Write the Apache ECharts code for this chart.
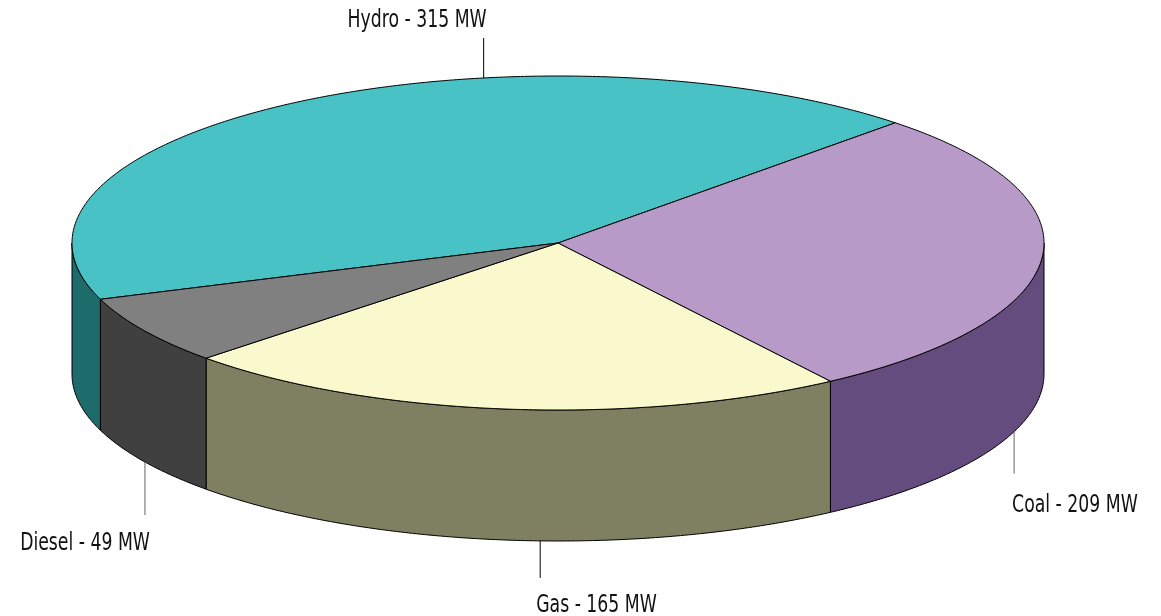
<!DOCTYPE html>
<html>
<head>
<meta charset="utf-8">
<script src="https://cdn.jsdelivr.net/npm/echarts@6/dist/echarts.min.js"></script>
<style>
html,body{margin:0;padding:0;background:#fff;}
#chart{width:1161px;height:616px;}
</style>
</head>
<body>
<div id="chart"></div>
<script>
// ---- data ----
var categories = ['Hydro', 'Coal', 'Gas', 'Diesel'];
var values = [315, 209, 165, 49];
var units = 'MW';

// ---- styles ----
var topColors = ['#49C2C6', '#B79AC8', '#FAF8CD', '#808080'];
var sideColors = ['#1D6B6B', '#654C7E', '#7F7F62', '#404040'];
var leaderColors = ['#000', '#666', '#000', '#666'];
// label anchor angle (deg), leader length, text alignment, text offset
var labelAngles = [98.8, -20.2, -92.1, -148.2];
var leaderLens = [40, 42, 37, 53];
var labelAligns = ['right', 'left', 'left', 'right'];
var labelGaps = [17, 32, 28, 29];
var labelDx = [3, -2, -4, 5];

var geo = { cx: 558, cy: 243, rx: 486, ry: 167, depth: 131, startAngle: 199.7 };
var FONT = "'Liberation Sans Narrow', 'DejaVu Sans Condensed', 'Arial Narrow', sans-serif";
var TEXT_SCALE_X = 0.8;

var total = values.reduce(function (a, b) { return a + b; }, 0);
var starts = [], ends = [];
(function () {
  var a = geo.startAngle;
  for (var i = 0; i < values.length; i++) {
    starts.push(a);
    a -= values[i] / total * 360;
    ends.push(a);
  }
})();

function pt(deg, dy) {
  var r = deg * Math.PI / 180;
  return [geo.cx + geo.rx * Math.cos(r), geo.cy - geo.ry * Math.sin(r) + (dy || 0)];
}
function arc(from, to, dy) {
  var pts = [];
  var n = Math.max(2, Math.ceil(Math.abs(to - from) / 0.5));
  for (var k = 0; k <= n; k++) pts.push(pt(from + (to - from) * k / n, dy));
  return pts;
}
// front-facing parts of [lo,hi]
function frontParts(lo, hi) {
  var res = [];
  [-720, -360, 0, 360].forEach(function (off) {
    var a = Math.max(lo, -180 + off), b = Math.min(hi, 0 + off);
    if (b > a) res.push([a, b]);
  });
  return res;
}

function renderItem(params, api) {
  var i = params.dataIndex;
  var a0 = starts[i], a1 = ends[i];
  var children = [];
  // sides
  frontParts(a1, a0).forEach(function (p) {
    var top = arc(p[0], p[1], 0);
    var bot = arc(p[1], p[0], geo.depth);
    children.push({
      type: 'polygon', z2: 1,
      shape: { points: top.concat(bot) },
      style: { fill: sideColors[i], stroke: '#000', lineWidth: 1 }
    });
  });
  // top face
  var pts = [[geo.cx, geo.cy]].concat(arc(a0, a1, 0));
  children.push({
    type: 'polygon', z2: 5,
    shape: { points: pts },
    style: { fill: topColors[i], stroke: '#000', lineWidth: 1, lineJoin: 'round' }
  });
  // label + leader
  var la = labelAngles[i];
  var s = Math.sin(la * Math.PI / 180);
  var front = s < 0;
  var base = pt(la, front ? geo.depth : 0);
  var dir = front ? 1 : -1;
  var end = [base[0], base[1] + dir * leaderLens[i]];
  children.push({
    type: 'line', z2: 6,
    shape: { x1: base[0], y1: base[1], x2: end[0], y2: end[1] },
    style: { stroke: leaderColors[i], lineWidth: 1 }
  });
  children.push({
    type: 'text', z2: 7,
    x: end[0] + labelDx[i], y: end[1] + dir * labelGaps[i],
    scaleX: TEXT_SCALE_X,
    style: {
      x: 0, y: 0,
      text: categories[i] + ' - ' + api.value(0) + ' ' + units,
      fill: '#111', font: '24px ' + FONT,
      align: labelAligns[i], verticalAlign: 'middle'
    }
  });
  return { type: 'group', children: children };
}

var chart = echarts.init(document.getElementById('chart'), null, { renderer: 'canvas' });
chart.setOption({
  animation: false,
  backgroundColor: '#fff',
  series: [{
    type: 'custom',
    coordinateSystem: 'none',
    renderItem: renderItem,
    data: values.map(function (v) { return [v]; })
  }]
});
</script>
</body>
</html>
